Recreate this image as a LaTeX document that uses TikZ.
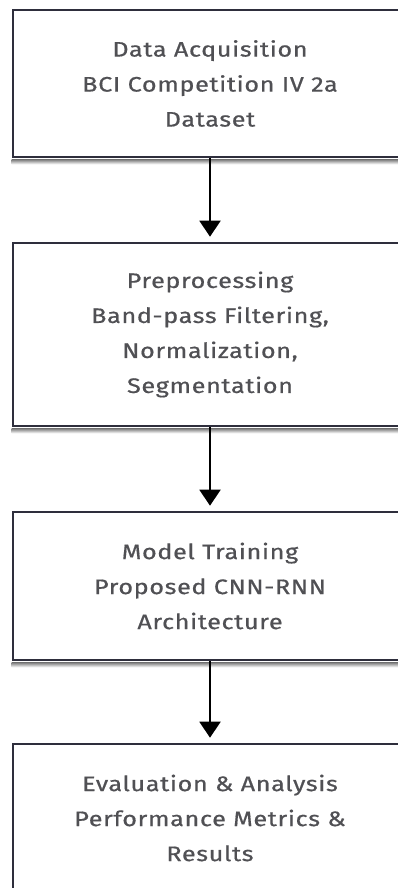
\documentclass[tikz,border=0pt]{standalone}
\usepackage{fontspec}
\setmainfont{Fira Sans}[LetterSpace=3,FakeStretch=1.2,FakeBold=0.6]
\usetikzlibrary{arrows.meta}
\definecolor{boxline}{HTML}{2E2E3C}
\definecolor{txt}{HTML}{505054}
\definecolor{shade}{HTML}{ECECF0}
\tikzset{
  stepbox/.style={draw=boxline, line width=2.6pt, fill=white, minimum width=394pt,
    inner sep=0pt, align=center, text=txt, font=\fontsize{21}{35}\selectfont},
  flowarrow/.style={draw=black, line width=2pt, -{Triangle[width=21pt,length=16pt]}}
}
\begin{document}
\begin{tikzpicture}[x=1pt,y=-1pt]
\useasboundingbox (0,0) rectangle (398,888);
\clip (0,0) rectangle (398,888);
\fill[white] (0,0) rectangle (398,888);
\node[stepbox, minimum height=147pt] (b1) at (210,83.5) {Data Acquisition\\BCI Competition IV 2a\\Dataset};
\node[stepbox, minimum height=183pt] (b2) at (210,334.5) {Preprocessing\\Band-pass Filtering,\\Normalization,\\Segmentation};
\node[stepbox, minimum height=148pt] (b3) at (210,586) {Model Training\\Proposed CNN-RNN\\Architecture};
\node[stepbox, minimum height=148pt] (b4) at (210,818) {Evaluation \& Analysis\\Performance Metrics \&\\Results};
\foreach \b in {b1,b2,b3}{
  \fill[shade] ([yshift=-1.3pt]\b.south west) rectangle ([yshift=-6pt]\b.south east);
}
\draw[flowarrow] (b1.south) -- ([yshift=5pt]b2.north);
\draw[flowarrow] (b2.south) -- ([yshift=5pt]b3.north);
\draw[flowarrow] (b3.south) -- ([yshift=5pt]b4.north);
\end{tikzpicture}
\end{document}
